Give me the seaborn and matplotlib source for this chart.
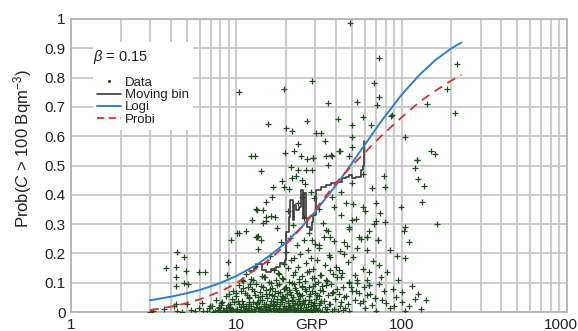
import numpy as np
import pandas as pd
import matplotlib
matplotlib.use("Agg")
import matplotlib.pyplot as plt
import matplotlib.transforms as mtransforms
from matplotlib.lines import Line2D
from matplotlib.ticker import FixedLocator, MultipleLocator, NullFormatter
import seaborn as sns

# Scatter data (GRP, probability)
data_grp = [
    # sparse left / low GRP
    3.75, 4.38, 4.8, 4.33, 4.97, 4.33, 4.33, 4.8, 5.1, 5.97, 6.47, 8.95, 9.3, 10.1,
    3.02, 3.13, 3.65, 4.2, 4.3, 4.4, 4.7, 5.05, 5.3, 5.6, 5.9, 6.2, 6.6, 6.9, 7.2,
    7.5, 7.8, 8.1, 8.4, 8.7, 9.0, 9.2, 9.5, 9.7, 9.9, 8.8, 10.8, 13.4, 14.1,
    # band 0.00-0.02
    6.3, 6.8, 7.4, 7.9, 8.3, 8.8, 9.2, 9.6, 10.1, 10.5, 10.9, 11.3, 11.8, 12.2, 12.7,
    13.1, 13.6, 14.0, 14.5, 15.1, 15.6, 16.2, 16.8, 17.3, 17.9, 18.6, 19.2, 19.9,
    20.6, 21.3, 22.1, 22.9, 23.7, 24.6, 25.4, 26.3, 27.2, 28.1, 29.0, 30.1, 31.2,
    33.0, 35.5, 38.0, 41.0, 44.0, 48.0,
    10.3, 11.1, 12.5, 13.9, 15.4, 16.6, 18.1, 19.5, 21.0, 22.5, 24.1, 25.9, 27.7,
    29.6, 14.8, 17.6, 20.2, 23.3, 26.7, 12.0, 9.4, 11.6,
    8.0, 9.3, 10.6, 11.8, 13.0, 14.3, 15.5, 16.9, 18.4, 19.6, 21.0, 22.7, 24.4,
    26.0, 27.8, 29.8, 32.0, 35.0,
    # band 0.00-0.045 (extra density)
    7.1, 7.7, 8.2, 8.6, 9.1, 9.8, 10.2, 10.7, 11.0, 11.4, 11.9, 12.3, 12.8, 13.3,
    13.7, 14.2, 14.7, 15.2, 15.7, 16.1, 16.7, 17.2, 17.7, 18.2, 18.7, 19.3, 19.8,
    20.4, 21.1, 21.8, 22.4, 23.1, 23.9, 24.7, 25.6, 26.5, 27.4, 28.4, 29.3, 30.3,
    31.4, 32.6, 34.2, 36.8, 39.2, 42.5, 45.5,
    # band 0.02-0.05
    8.1, 8.9, 9.4, 10.3, 10.8, 11.5, 12.0, 12.6, 13.3, 13.9, 14.6, 15.3, 16.0, 16.6,
    17.5, 18.3, 19.0, 19.8, 20.8, 21.6, 22.5, 23.5, 24.3, 25.2, 26.1, 27.0, 28.3,
    29.5, 30.5, 32.0, 34.0, 36.5, 39.5, 43.0, 47.0, 52.0, 58.0,
    11.9, 13.6, 15.9, 18.8, 21.9, 24.8, 28.9, 17.0, 20.5,
    # band 0.05-0.08
    9.0, 10.0, 10.6, 11.2, 11.9, 12.4, 13.0, 13.8, 14.3, 15.0, 15.8, 16.5, 17.1,
    17.8, 18.8, 19.5, 20.3, 21.0, 22.0, 23.0, 24.0, 25.0, 26.0, 27.5, 28.8, 30.0,
    31.5, 33.5, 36.0, 38.5, 42.0, 46.0, 50.0, 55.0, 62.0, 69.0,
    10.0, 10.9, 11.6, 12.1, 12.7, 13.5, 14.4, 15.0, 15.9, 16.8, 17.6, 18.4, 19.1,
    19.7, 20.7, 21.5, 22.2, 23.2, 24.2, 25.1, 26.4, 27.9, 29.1, 30.8, 32.2, 34.8,
    37.8, 40.8, 45.0, 49.5, 53.0,
    # band 0.08-0.12
    10.4, 11.0, 11.7, 12.3, 13.2, 14.1, 14.9, 15.7, 16.4, 17.3, 18.1, 19.0, 19.9,
    20.9, 21.8, 22.7, 23.8, 24.8, 26.0, 27.3, 28.5, 29.8, 31.0, 32.8, 35.0, 37.5,
    40.5, 44.0, 48.0, 54.0, 63.0,
    12.6, 14.6, 16.2, 17.8, 19.2, 21.9, 24.0, 26.6, 29.3, 32.0, 35.5, 38.5,
    # band 0.12-0.18
    11.4, 12.9, 14.3, 15.4, 16.9, 18.0, 19.4, 20.4, 21.5, 22.6, 23.6, 24.9, 26.2,
    27.6, 29.0, 30.6, 32.5, 34.5, 37.0, 40.0, 43.5, 47.5, 52.0, 58.0,
    # band 0.18-0.26
    13.5, 16.0, 18.5, 20.0, 21.2, 22.3, 23.3, 24.4, 25.6, 27.0, 28.4, 30.0, 31.8,
    33.8, 36.2, 39.0, 42.5, 46.5, 51.0, 57.0,
    # band 0.26-0.40
    15.0, 17.5, 20.5, 22.0, 23.5, 25.5, 27.5, 29.5, 31.5, 33.5, 36.0, 39.0, 43.0,
    48.0, 53.0,
    # right side, 30-140
    62, 72, 54, 62, 94, 104, 72.6, 63, 42, 43, 48, 62, 63, 54, 92, 101, 76, 64, 69,
    80, 85, 110, 120, 130, 70, 88, 75, 95, 115, 67, 85, 110, 56, 59, 66, 78, 82, 90,
    100, 125, 140, 105, 60, 73,
    37.3, 29, 123, 121, 126, 137, 133, 78, 79, 66, 43, 38, 46, 51, 58, 60, 70, 74,
    99, 79, 70, 68, 50, 48, 104, 103, 63, 62, 72, 55, 44.5, 37, 35, 31.6, 44.5, 37,
    164, 150, 160, 124,
    # upper region
    48.6, 72.6, 68, 72.6, 70.5, 54, 58, 87, 10.3, 19.5, 28.6, 35.8, 41, 26.8, 15.6,
    20, 21.7, 50, 65, 30.3, 32.3, 34.3, 23.6, 50, 50, 42.3, 19.7, 22.4, 12.3, 13,
    24.6, 29, 35, 38, 48, 217, 189, 210, 143, 86, 104,
    26.8, 21.4, 23.6, 26.3, 14.1, 18.9, 16.7, 21.7, 23, 25, 26, 19.5, 20.9, 28.6,
    16.4, 25, 28.2, 13.4, 15.2, 16.2, 17.2, 14.4, 10.3, 11.5, 13.2, 13.6, 28.6,
    15.0, 13.2, 14.4, 12.4, 36, 42, 50, 58,
]
data_prob = [
    0.151, 0.206, 0.187, 0.155, 0.14, 0.118, 0.089, 0.098, 0.096, 0.135, 0.135, 0.172, 0.246, 0.269,
    0.001, 0.004, 0.009, 0.02, 0.027, 0.003, 0.001, 0.026, 0.008, 0.002, 0.015, 0.03, 0.005, 0.02, 0.001,
    0.04, 0.012, 0.025, 0.003, 0.055, 0.018, 0.008, 0.07, 0.035, 0.002, 0.126, 0.109, 0.257, 0.246,
    # band 0.00-0.02
    0.004, 0.012, 0.002, 0.018, 0.008, 0.001, 0.015, 0.006, 0.011, 0.003, 0.019, 0.007, 0.014, 0.002, 0.009,
    0.017, 0.005, 0.012, 0.001, 0.016, 0.008, 0.004, 0.013, 0.019, 0.006, 0.002, 0.011, 0.015,
    0.003, 0.009, 0.018, 0.005, 0.013, 0.001, 0.008, 0.016, 0.004, 0.011, 0.002, 0.014, 0.007,
    0.003, 0.01, 0.005, 0.002, 0.006, 0.003,
    0.001, 0.006, 0.003, 0.009, 0.002, 0.011, 0.004, 0.001, 0.007, 0.002, 0.005, 0.001, 0.008,
    0.004, 0.006, 0.003, 0.002, 0.007, 0.004, 0.006, 0.010, 0.001,
    0.001, 0.003, 0.001, 0.002, 0.004, 0.001, 0.003, 0.002, 0.001, 0.004, 0.002, 0.001, 0.003,
    0.002, 0.001, 0.003, 0.002, 0.001,
    # band 0.00-0.045 (extra density)
    0.021, 0.008, 0.033, 0.014, 0.026, 0.004, 0.039, 0.017, 0.028, 0.006, 0.035, 0.021, 0.003, 0.031,
    0.012, 0.042, 0.019, 0.027, 0.009, 0.037, 0.024, 0.002, 0.033, 0.015, 0.044, 0.022, 0.007,
    0.03, 0.018, 0.04, 0.01, 0.026, 0.036, 0.013, 0.029, 0.005, 0.041, 0.02, 0.032, 0.011,
    0.024, 0.038, 0.016, 0.027, 0.009, 0.02, 0.012,
    # band 0.02-0.05
    0.031, 0.024, 0.045, 0.028, 0.038, 0.022, 0.049, 0.033, 0.026, 0.041, 0.029, 0.047, 0.023, 0.036,
    0.044, 0.027, 0.034, 0.048, 0.021, 0.039, 0.030, 0.046, 0.025, 0.037, 0.042, 0.028, 0.035,
    0.024, 0.043, 0.031, 0.038, 0.026, 0.045, 0.033, 0.029, 0.04, 0.036,
    0.027, 0.034, 0.022, 0.040, 0.025, 0.031, 0.021, 0.029, 0.037,
    # band 0.05-0.08
    0.061, 0.055, 0.072, 0.064, 0.052, 0.078, 0.058, 0.069, 0.053, 0.075, 0.062, 0.057, 0.071,
    0.066, 0.054, 0.079, 0.06, 0.068, 0.051, 0.074, 0.063, 0.058, 0.077, 0.056, 0.07, 0.065,
    0.053, 0.073, 0.059, 0.067, 0.062, 0.055, 0.071, 0.064, 0.058, 0.048,
    0.066, 0.083, 0.058, 0.094, 0.071, 0.052, 0.087, 0.063, 0.078, 0.055, 0.091, 0.068, 0.05,
    0.082, 0.074, 0.059, 0.096, 0.066, 0.053, 0.085, 0.072, 0.061, 0.089, 0.057, 0.076, 0.093,
    0.064, 0.079, 0.052, 0.086, 0.07,
    # band 0.08-0.12
    0.092, 0.105, 0.084, 0.112, 0.097, 0.088, 0.118, 0.101, 0.083, 0.109, 0.094, 0.115, 0.087,
    0.103, 0.098, 0.081, 0.113, 0.09, 0.106, 0.085, 0.117, 0.095, 0.102, 0.088, 0.11, 0.096,
    0.119, 0.084, 0.1, 0.109, 0.092,
    0.108, 0.121, 0.099, 0.133, 0.112, 0.127, 0.104, 0.138, 0.116, 0.125, 0.107, 0.131,
    # band 0.12-0.18
    0.131, 0.158, 0.124, 0.172, 0.142, 0.128, 0.163, 0.149, 0.176, 0.135, 0.155, 0.122, 0.168,
    0.139, 0.146, 0.178, 0.127, 0.161, 0.143, 0.152, 0.134, 0.17, 0.125, 0.147,
    # band 0.18-0.26
    0.215, 0.192, 0.238, 0.204, 0.252, 0.186, 0.228, 0.199, 0.245, 0.212, 0.183, 0.233, 0.219,
    0.256, 0.195, 0.241, 0.207, 0.226, 0.189, 0.248,
    # band 0.26-0.40
    0.31, 0.285, 0.345, 0.298, 0.372, 0.322, 0.268, 0.39, 0.35, 0.305, 0.276, 0.36, 0.33,
    0.29, 0.318,
    # right side
    0.256, 0.245, 0.218, 0.212, 0.191, 0.184, 0.16, 0.137, 0.143, 0.12, 0.102, 0.109, 0.092, 0.099, 0.051, 0.068, 0.041, 0.061, 0.048,
    0.03, 0.015, 0.02, 0.045, 0.01, 0.005, 0.08, 0.12, 0.11, 0.09, 0.175, 0.21, 0.24, 0.03, 0.085, 0.025, 0.07, 0.135, 0.02,
    0.035, 0.06, 0.04, 0.005, 0.015, 0.095,
    0.536, 0.525, 0.519, 0.49, 0.454, 0.43, 0.375, 0.464, 0.427, 0.423, 0.41, 0.392, 0.372, 0.369, 0.358, 0.345, 0.372, 0.338,
    0.358, 0.307, 0.31, 0.30, 0.314, 0.283, 0.29, 0.276, 0.276, 0.256, 0.245, 0.256, 0.239, 0.256, 0.28, 0.229, 0.198, 0.188,
    0.30, 0.55, 0.54, 0.518,
    # upper region
    0.987, 0.867, 0.782, 0.734, 0.706, 0.716, 0.666, 0.672, 0.751, 0.761, 0.788, 0.713, 0.658, 0.652, 0.642,
    0.628, 0.618, 0.638, 0.638, 0.611, 0.611, 0.584, 0.573, 0.597, 0.563, 0.55, 0.543, 0.55, 0.532, 0.532,
    0.532, 0.526, 0.532, 0.532, 0.532, 0.845, 0.76, 0.678, 0.709, 0.668, 0.597,
    0.522, 0.495, 0.485, 0.485, 0.48, 0.447, 0.427, 0.457, 0.464, 0.45, 0.437, 0.427, 0.42, 0.485,
    0.392, 0.392, 0.41, 0.348, 0.324, 0.328, 0.324, 0.304, 0.27, 0.276, 0.256, 0.259, 0.246,
    0.375, 0.352, 0.348, 0.314, 0.502, 0.55, 0.44, 0.47,
]

# Moving-bin estimate (step line)
bin_grp = [12.0, 12.8, 13.4, 14.2, 15.2, 16.3, 17.4, 18.4, 19.7, 19.9, 20.7, 21.2,
           21.9, 22.4, 22.9, 23.8, 24.7, 25.3, 25.7, 26.3, 26.9, 27.8, 28.6, 28.9,
           30.5, 32.4, 34.6, 37.2, 39.8, 43.6, 45.8, 48.0, 50.3, 52.8, 56.6, 58.0,
           59.0]
bin_prob = [0.140, 0.150, 0.165, 0.145, 0.138, 0.148, 0.155, 0.166, 0.176, 0.274,
            0.325, 0.382, 0.314, 0.365, 0.348, 0.360, 0.416, 0.320, 0.405, 0.320,
            0.291, 0.280, 0.308, 0.331, 0.415, 0.428, 0.433, 0.439, 0.445, 0.456,
            0.462, 0.468, 0.456, 0.462, 0.485, 0.500, 0.585]

# Fitted curves, read at a set of GRP values
curve_grp = [3, 4, 5, 6, 8, 10, 13, 16, 20, 25, 30, 40, 50, 60, 75, 100, 130, 160, 200, 230]
logi_prob = [0.040, 0.052, 0.064, 0.075, 0.099, 0.123, 0.158, 0.193, 0.238, 0.292,
             0.343, 0.432, 0.508, 0.572, 0.650, 0.742, 0.813, 0.860, 0.900, 0.920]
probi_prob = [0.006, 0.018, 0.030, 0.043, 0.070, 0.098, 0.145, 0.180, 0.232, 0.290,
              0.350, 0.440, 0.500, 0.545, 0.600, 0.665, 0.720, 0.755, 0.790, 0.810]

GREEN = "#1e4d1e"
BLUE = "#2f7fd0"
RED = "#e0302a"
DARK = "#3a3a3a"
GRID = "#c4c4c4"
TEXT = "#222222"

sns.set_style("white")
plt.rcParams["font.family"] = ["Liberation Sans", "DejaVu Sans"]
plt.rcParams["mathtext.fontset"] = "custom"
plt.rcParams["mathtext.it"] = "Liberation Sans:italic"
plt.rcParams["mathtext.rm"] = "Liberation Sans"

fig = plt.figure(figsize=(5.78, 3.31), dpi=100)
ax = fig.add_axes([0.123, 0.0574, 0.858, 0.8852])

scatter_df = pd.DataFrame({"GRP": data_grp, "Prob": data_prob})
sns.scatterplot(data=scatter_df, x="GRP", y="Prob", marker="+", s=13,
                color=GREEN, linewidth=0.9, ax=ax, zorder=3)

bin_df = pd.DataFrame({"GRP": bin_grp, "Prob": bin_prob})
sns.lineplot(data=bin_df, x="GRP", y="Prob", color=DARK, linewidth=1.2,
             drawstyle="steps-post", estimator=None, sort=False, ax=ax, zorder=4)

curve_df = pd.DataFrame({"GRP": curve_grp, "Logi": logi_prob, "Probi": probi_prob})
sns.lineplot(data=curve_df, x="GRP", y="Logi", color=BLUE, linewidth=1.4,
             estimator=None, ax=ax, zorder=5)
sns.lineplot(data=curve_df, x="GRP", y="Probi", color=RED, linewidth=1.3,
             linestyle=(0, (5, 3.5)), estimator=None, ax=ax, zorder=5)

ax.set_xscale("log")
ax.set_xlim(1, 1000)
ax.set_ylim(0, 1)

ax.xaxis.set_major_locator(FixedLocator([1, 10, 100, 1000]))
ax.set_xticklabels(["1", "10", "100", "1000"])
ax.xaxis.set_minor_locator(FixedLocator([m * d for d in (1, 10, 100) for m in range(2, 10)]))
ax.xaxis.set_minor_formatter(NullFormatter())
ax.set_yticks(np.round(np.arange(0, 1.01, 0.1), 1))
ax.set_yticklabels(["0", "0.1", "0.2", "0.3", "0.4", "0.5", "0.6", "0.7", "0.8", "0.9", "1"])
ax.yaxis.set_minor_locator(MultipleLocator(0.02))

ax.grid(True, which="major", color=GRID, linewidth=1.2, zorder=0)
ax.grid(True, which="minor", axis="x", color=GRID, linewidth=1.2, zorder=0)
ax.set_axisbelow(True)

ax.tick_params(axis="both", which="major", direction="in", length=0, labelsize=11,
               pad=4, colors=TEXT)
ax.tick_params(axis="y", which="minor", direction="in", length=3, width=0.8, color="#999999")
ax.tick_params(axis="x", which="minor", length=0)
for side in ax.spines.values():
    side.set_color("#b0b0b0")
    side.set_linewidth(1.2)

# keep the "1000" label inside the canvas
last = ax.get_xticklabels()[-1]
last.set_transform(last.get_transform() + mtransforms.ScaledTranslation(-6 / 100, 0, fig.dpi_scale_trans))

ax.set_xlabel("GRP", fontsize=11, color=TEXT)
ax.xaxis.set_label_coords(0.486, -0.022)
ax.xaxis.label.set_va("top")
ax.set_ylabel(r"Prob($C$ > 100 Bqm$^{-3}$)", fontsize=12, color=TEXT)
ax.yaxis.set_label_coords(-0.075, 0.556)

handles = [
    Line2D([], [], linestyle="none", marker=".", markersize=2.5, color=GREEN),
    Line2D([], [], color=DARK, linewidth=1.2),
    Line2D([], [], color=BLUE, linewidth=1.4),
    Line2D([], [], color=RED, linewidth=1.3, linestyle=(0, (4, 2.5))),
]
# blank legend title keeps room in the white box; the beta label is drawn on top
leg = ax.legend(handles, ["Data", "Moving bin", "Logi", "Probi"],
                title=" ", loc="upper left",
                bbox_to_anchor=(0.045, 0.92), frameon=True, framealpha=1,
                edgecolor="none", facecolor="white", fontsize=9.5,
                title_fontsize=10.5, handlelength=1.8, handletextpad=0.3,
                labelspacing=0.0, borderpad=0.3, borderaxespad=0)
leg._legend_box.align = "left"
leg._legend_box.sep = 11.8
for t in leg.get_texts():
    t.set_color(TEXT)
leg.set_zorder(6)

ax.text(0.044, 0.870, r"$\beta$ = 0.15", transform=ax.transAxes, fontsize=10.5,
        color=TEXT, ha="left", va="center", zorder=7)

fig.savefig("out.png", dpi=100)
